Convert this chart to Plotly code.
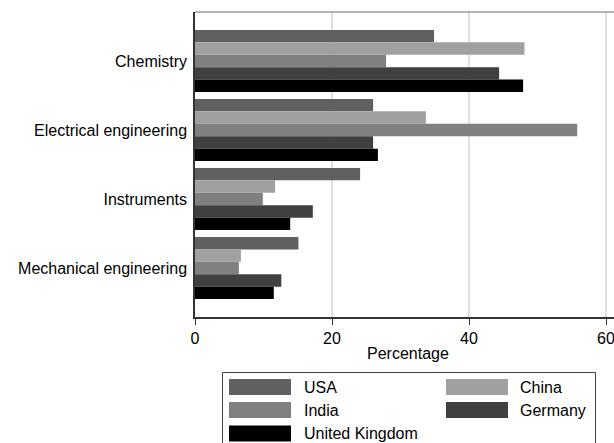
import plotly.graph_objects as go

# Share of patents by technology field and country (%)
fields = ["Chemistry", "Electrical engineering", "Instruments", "Mechanical engineering"]
countries = ["USA", "China", "India", "Germany", "United Kingdom"]
usa = [34.9, 26.0, 24.1, 15.1]
china = [48.1, 33.7, 11.7, 6.7]
india = [27.9, 55.8, 9.9, 6.4]
germany = [44.4, 26.0, 17.2, 12.6]
uk = [47.9, 26.7, 13.9, 11.5]
x_ticks = [0, 20, 40, 60]

series = [usa, china, india, germany, uk]
colors = ["#606060", "#a0a0a0", "#808080", "#404040", "#000000"]

W, H = 614, 443
L, T, B, R = 195, 12, 126, 0
FONT = dict(family="Liberation Sans, Arial, sans-serif", size=16, color="#000000")

fig = go.Figure()
for name, vals, col in zip(countries, series, colors):
    fig.add_trace(go.Bar(
        y=fields, x=vals, name=name, orientation="h",
        marker=dict(color=col, line=dict(width=0)),
        showlegend=False,
    ))

plot_w = W - L - R
plot_h = H - T - B


def px_x(px):
    return (px - L) / plot_w


def px_y(py):
    return (H - B - py) / plot_h


shapes = [
    # light frame line along the top of the plotting area
    dict(type="line", xref="paper", yref="paper", x0=0, x1=1, y0=1, y1=1,
         line=dict(color="#6e6e6e", width=1.2), layer="above"),
    # legend box
    dict(type="rect", xref="paper", yref="paper",
         x0=px_x(222.5), x1=px_x(595.5), y0=px_y(452), y1=px_y(372.5),
         line=dict(color="#404040", width=1), fillcolor="rgba(0,0,0,0)"),
]
annotations = [
    dict(text="Percentage", xref="paper", yref="paper", x=px_x(408), y=px_y(353),
         xanchor="center", yanchor="middle", showarrow=False, font=FONT),
]

# legend entries: two columns, filled row by row
col_swatch_x = [229, 446]
col_text_x = [302, 518]
row_y = [387, 410, 433.5]
for i, (name, col) in enumerate(zip(countries, colors)):
    r, c = divmod(i, 2)
    cy = row_y[r]
    shapes.append(dict(type="rect", xref="paper", yref="paper",
                       x0=px_x(col_swatch_x[c]), x1=px_x(col_swatch_x[c] + 62),
                       y0=px_y(cy + 8), y1=px_y(cy - 8),
                       line=dict(width=0), fillcolor=col))
    annotations.append(dict(text=name, xref="paper", yref="paper",
                            x=px_x(col_text_x[c]), y=px_y(cy),
                            xanchor="left", yanchor="middle", showarrow=False, font=FONT))

fig.update_layout(
    width=W, height=H,
    margin=dict(l=L, r=R, t=T, b=B, pad=0),
    paper_bgcolor="white", plot_bgcolor="white",
    barmode="group", bargap=0.1, bargroupgap=0,
    font=FONT,
    shapes=shapes, annotations=annotations,
    xaxis=dict(
        range=[0, plot_w / 6.85], tickvals=x_ticks, ticktext=[str(v) for v in x_ticks],
        showgrid=True, gridcolor="#e0e0e0", gridwidth=1.5,
        zeroline=False, showline=True, linecolor="#333333", linewidth=1.5,
        ticks="outside", ticklen=6, tickcolor="#333333", tickwidth=1,
        tickfont=FONT, ticklabeloverflow="allow",
    ),
    yaxis=dict(
        type="category", categoryorder="array", categoryarray=fields,
        range=[3.71, -0.71],
        showgrid=False, zeroline=False, showline=True, linecolor="#333333", linewidth=1.5,
        ticks="", ticklabelstandoff=3, tickfont=FONT,
    ),
)

fig.write_html("out.html")
